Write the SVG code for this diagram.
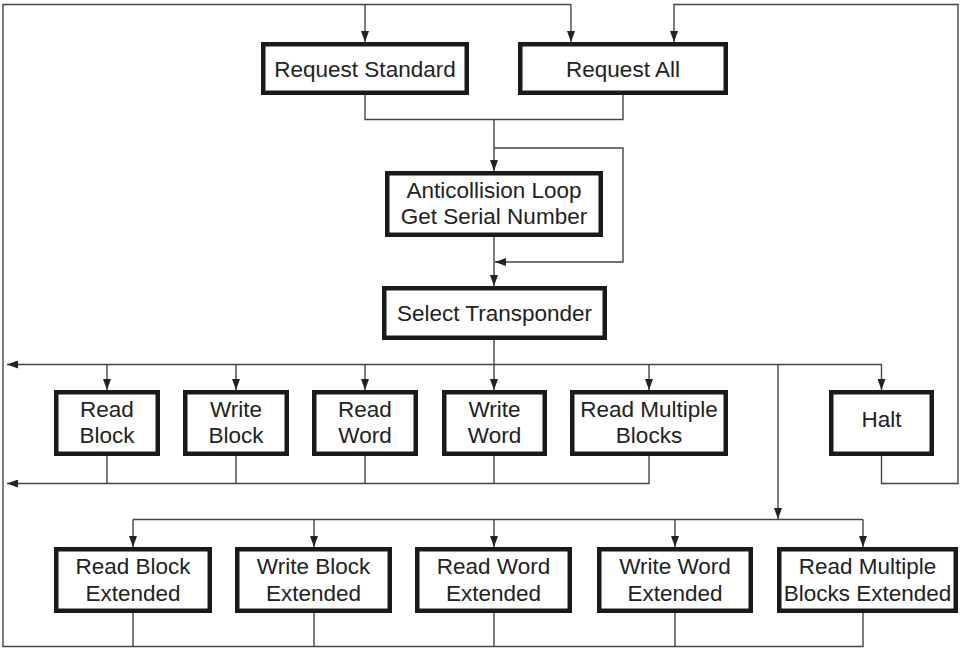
<svg xmlns="http://www.w3.org/2000/svg" width="961" height="649" viewBox="0 0 961 649">
<style>
.box{fill:#fff;stroke:#1a1a1a;stroke-width:4.5}
.t{font-family:"Liberation Sans",Arial,Helvetica,sans-serif;font-size:22.5px;fill:#222;text-anchor:middle}
.c{fill:none;stroke:#444;stroke-width:1.4}
.a{marker-end:url(#ah)}
</style>
<defs>
<marker id="ah" viewBox="0 0 11 8" refX="11" refY="4" markerWidth="11" markerHeight="8" orient="auto" markerUnits="userSpaceOnUse">
<path d="M0,0 L11,4 L0,8 z" fill="#222"/>
</marker>
</defs>
<rect width="961" height="649" fill="#fff"/>
<g id="connectors">
<path class="c a" d="M365,4.5 V42"/>
<path class="c" d="M863,613 V646.5 H3 V4.5 H571"/>
<path class="c a" d="M571,4.5 V42"/>
<path class="c a" d="M881.5,456 V483.5 H958 V4.5 H674 V42"/>
<path class="c" d="M365,95 V119.5 H623 V95"/>
<path class="c a" d="M494,119.5 V171"/>
<path class="c a" d="M494,148 H623 V262 H495"/>
<path class="c a" d="M494,237 V286"/>
<path class="c" d="M494,340 V364.5"/>
<path class="c a" d="M494,364.5 H7"/>
<path class="c a" d="M494,364.5 H881.5 V390"/>
<path class="c a" d="M107,364.5 V390"/>
<path class="c a" d="M236,364.5 V390"/>
<path class="c a" d="M365,364.5 V390"/>
<path class="c a" d="M494,364.5 V390"/>
<path class="c a" d="M649,364.5 V390"/>
<path class="c a" d="M778,364.5 V519"/>
<path class="c" d="M107,456 V483.5"/>
<path class="c" d="M236,456 V483.5"/>
<path class="c" d="M365,456 V483.5"/>
<path class="c" d="M494,456 V483.5"/>
<path class="c a" d="M649,456 V483.5 H7"/>
<path class="c" d="M133,519.5 H863"/>
<path class="c a" d="M133,519.5 V547"/>
<path class="c a" d="M314,519.5 V547"/>
<path class="c a" d="M494,519.5 V547"/>
<path class="c a" d="M675,519.5 V547"/>
<path class="c a" d="M863,519.5 V547"/>
<path class="c" d="M133,613 V646.5"/>
<path class="c" d="M314,613 V646.5"/>
<path class="c" d="M494,613 V646.5"/>
<path class="c" d="M675,613 V646.5"/>
</g>
<g id="request-standard"><rect class="box" x="263.25" y="44.25" width="203.5" height="48.5"/><text class="t" x="365" y="76.5">Request Standard</text></g>
<g id="request-all"><rect class="box" x="520.25" y="44.25" width="205.5" height="48.5"/><text class="t" x="623" y="76.5">Request All</text></g>
<g id="anticollision"><rect class="box" x="387.25" y="173.25" width="213.5" height="61.5"/><text class="t" x="494" y="198">Anticollision Loop</text><text class="t" x="494" y="224">Get Serial Number</text></g>
<g id="select-transponder"><rect class="box" x="384.25" y="288.25" width="220.5" height="49.5"/><text class="t" x="494.5" y="321">Select Transponder</text></g>
<g id="read-block"><rect class="box" x="56.25" y="392.25" width="101.5" height="61.5"/><text class="t" x="107" y="417">Read</text><text class="t" x="107" y="443">Block</text></g>
<g id="write-block"><rect class="box" x="185.25" y="392.25" width="101.5" height="61.5"/><text class="t" x="236" y="417">Write</text><text class="t" x="236" y="443">Block</text></g>
<g id="read-word"><rect class="box" x="314.25" y="392.25" width="101.5" height="61.5"/><text class="t" x="365" y="417">Read</text><text class="t" x="365" y="443">Word</text></g>
<g id="write-word"><rect class="box" x="444.25" y="392.25" width="100.5" height="61.5"/><text class="t" x="494.5" y="417">Write</text><text class="t" x="494.5" y="443">Word</text></g>
<g id="read-multiple-blocks"><rect class="box" x="572.25" y="392.25" width="153.5" height="61.5"/><text class="t" x="649" y="417">Read Multiple</text><text class="t" x="649" y="443">Blocks</text></g>
<g id="halt"><rect class="box" x="831.25" y="392.25" width="100.5" height="61.5"/><text class="t" x="881.5" y="427">Halt</text></g>
<g id="read-block-ext"><rect class="box" x="56.25" y="549.25" width="153.5" height="61.5"/><text class="t" x="133" y="574">Read Block</text><text class="t" x="133" y="601">Extended</text></g>
<g id="write-block-ext"><rect class="box" x="237.25" y="549.25" width="152.5" height="61.5"/><text class="t" x="313.5" y="574">Write Block</text><text class="t" x="313.5" y="601">Extended</text></g>
<g id="read-word-ext"><rect class="box" x="417.25" y="549.25" width="152.5" height="61.5"/><text class="t" x="493.5" y="574">Read Word</text><text class="t" x="493.5" y="601">Extended</text></g>
<g id="write-word-ext"><rect class="box" x="599.25" y="549.25" width="151.5" height="61.5"/><text class="t" x="675" y="574">Write Word</text><text class="t" x="675" y="601">Extended</text></g>
<g id="read-multiple-blocks-ext"><rect class="box" x="779.25" y="549.25" width="176.5" height="61.5"/><text class="t" x="867.5" y="574">Read Multiple</text><text class="t" x="867.5" y="601">Blocks Extended</text></g>
</svg>
